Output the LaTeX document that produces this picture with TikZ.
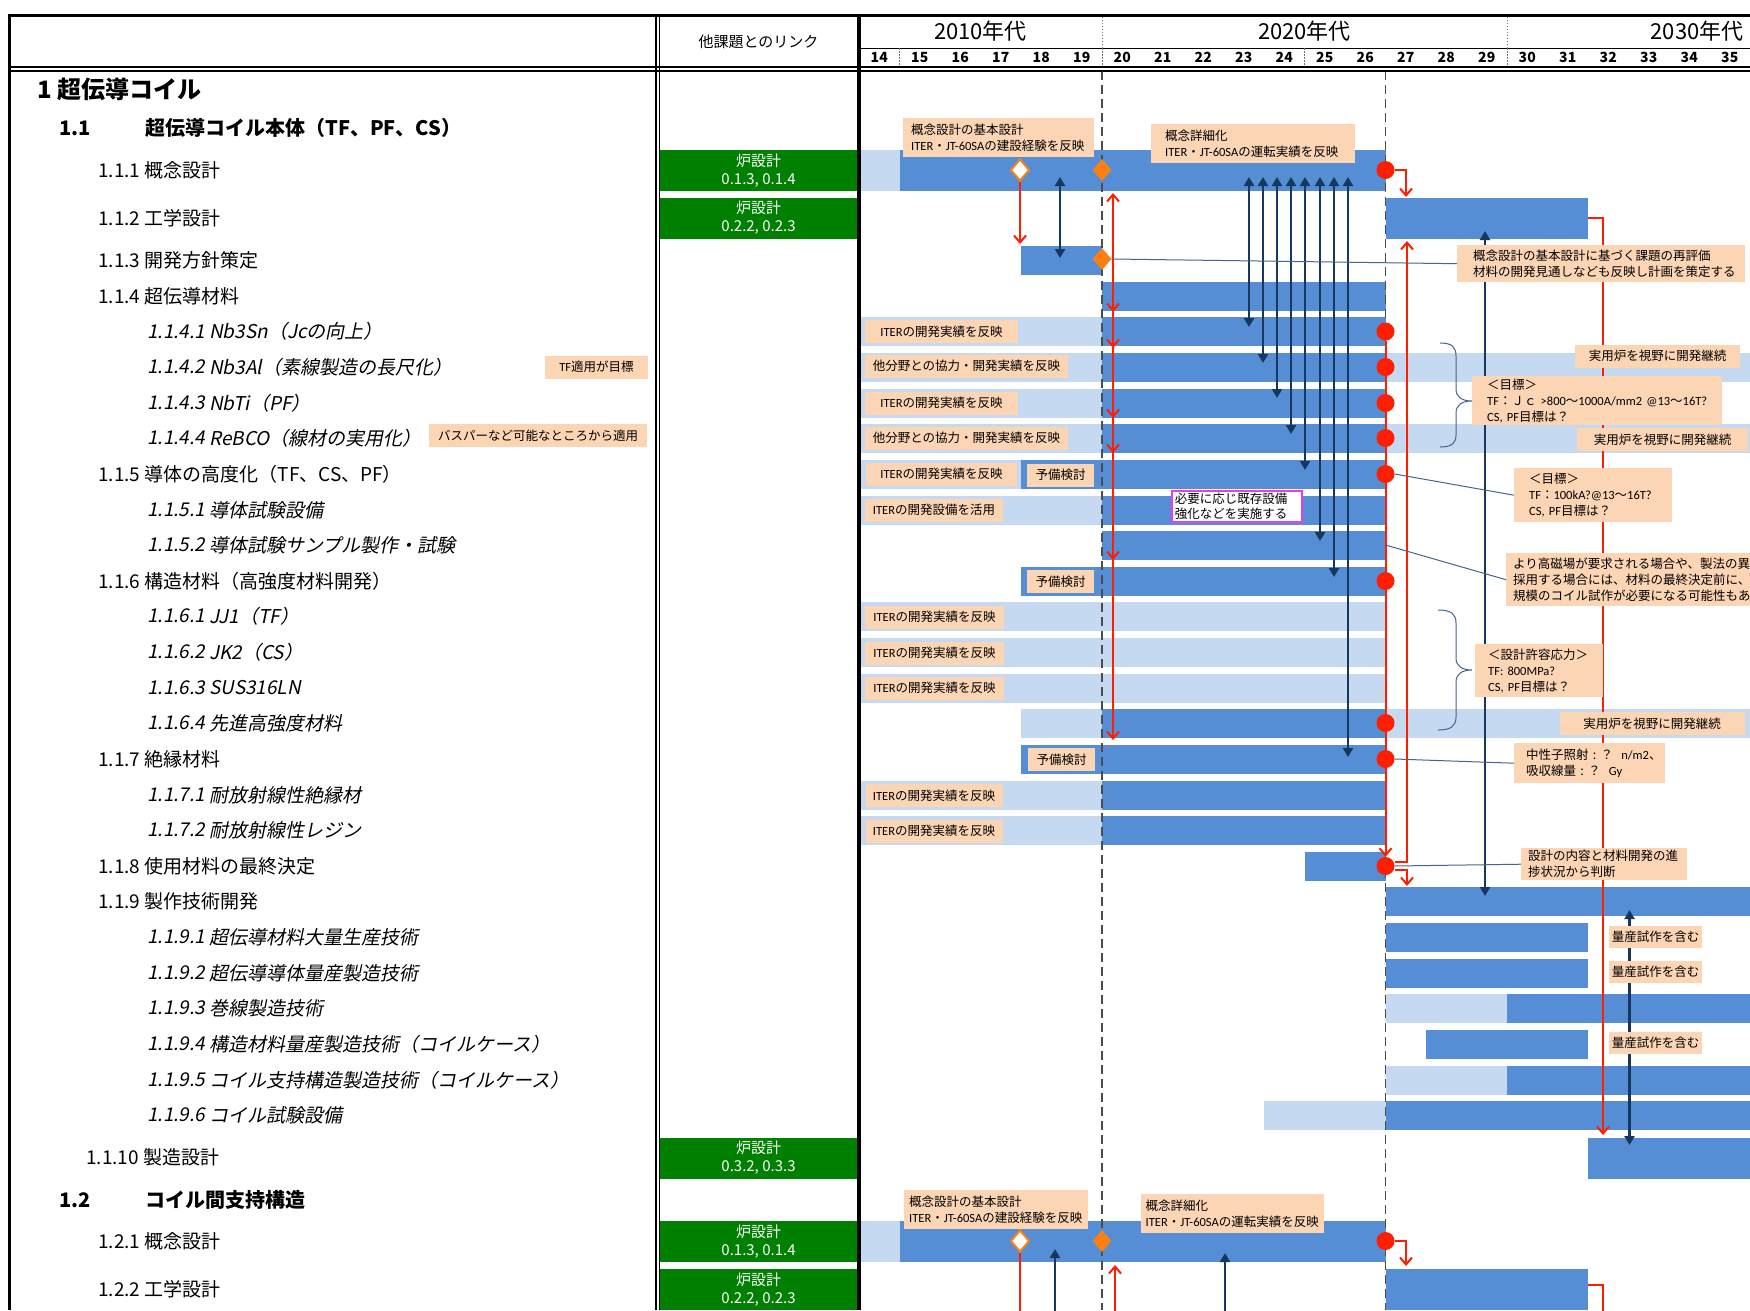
\documentclass[tikz,border=0pt]{standalone}
\usepackage{fontspec}
\setmainfont{Noto Sans CJK JP}
\newfontfamily\jpit[FakeSlant=0.2]{Noto Sans CJK JP}
\newfontfamily\la{Carlito}
\usetikzlibrary{arrows.meta,shapes.geometric}

\definecolor{planblue}{RGB}{85,142,213}
\definecolor{prepblue}{RGB}{197,217,241}
\definecolor{peach}{RGB}{252,213,181}
\definecolor{linkgreen}{RGB}{0,128,0}
\definecolor{ganttred}{RGB}{255,30,0}
\definecolor{gateorange}{RGB}{250,128,20}
\definecolor{navy}{RGB}{23,55,94}
\definecolor{leader}{RGB}{70,100,140}
\definecolor{pinkframe}{RGB}{235,60,235}

\newcommand\tagsize{\fontsize{12.5}{16}\selectfont}

\tikzset{
  tag/.style={fill=peach, inner sep=0pt, minimum height=23pt, font=\tagsize},
  memo/.style={fill=peach, anchor=north west, align=left, inner ysep=0pt, font=\tagsize},
  linkbox/.style={fill=linkgreen, text=white, minimum width=197pt, minimum height=41pt, inner sep=0pt, align=center, font=\fontsize{15}{18}\selectfont},
  goal/.style={circle, fill=ganttred, minimum size=18pt, inner sep=0pt},
  gate/.style={diamond, fill=gateorange, minimum width=19pt, minimum height=22pt, inner sep=0pt},
  opengate/.style={gate, fill=white, draw=gateorange, line width=2pt},
  redline/.style={draw=ganttred, line width=2pt},
  redarr/.style={redline, -{Straight Barb[length=7pt,width=12pt]}},
  navyline/.style={draw=navy, line width=2.2pt},
  navyarr/.style={navyline, {Triangle[length=9pt,width=10pt]}-{Triangle[length=9pt,width=10pt]}},
  navyup/.style={navyline, -{Triangle[length=9pt,width=10pt]}},
  leaderline/.style={draw=leader, line width=1pt},
  stage/.style={draw=black!70, line width=1.2pt, dash pattern=on 9pt off 5pt},
  dotsep/.style={draw=black!55, line width=1pt, dash pattern=on 1.5pt off 1.5pt},
  item/.style={anchor=west, inner sep=0pt, font=\fontsize{19}{22}\selectfont},
  subitem/.style={anchor=west, inner sep=0pt, font=\jpit\fontsize{19}{22}\selectfont},
  head/.style={anchor=west, inner sep=0pt, font=\bfseries\fontsize{20}{24}\selectfont},
}

\begin{document}
\begin{tikzpicture}[x=1pt,y=-1pt]
\useasboundingbox (0,0) rectangle (1750,1310);
\clip (0,0) rectangle (1750,1310);
\fill[white] (0,0) rectangle (1750,1310);

% bars (tall rows)
\foreach \y/\a/\b in {170/859/899.5, 1241/859/899.5}
  \fill[prepblue] (\a,\y-20.5) rectangle (\b,\y+20.5);
\foreach \y/\a/\b in {170/899.5/1385.5, 218/1385.5/1588, 1158/1588/1750, 1241/899.5/1385.5, 1289/1385.5/1588}
  \fill[planblue] (\a,\y-20.5) rectangle (\b,\y+20.5);
% bars (normal rows)
\foreach \y/\a/\b in {331.5/859/1102, 367/859/1102, 367/1385.5/1750, 403/859/1102, 438/859/1102, 438/1385.5/1750,
    474/859/1021, 510/859/1102, 616/859/1385.5, 652/859/1385.5, 688/859/1385.5, 723/1021/1102, 723/1385.5/1750,
    795/859/1102, 830/859/1102, 1008/1385.5/1507, 1080/1385.5/1507, 1115/1264/1385.5}
  \fill[prepblue] (\a,\y-14.5) rectangle (\b,\y+14.5);
\foreach \y/\a/\b in {260/1021/1102, 296/1102/1385.5, 331.5/1102/1385.5, 367/1102/1385.5, 403/1102/1385.5, 438/1102/1385.5,
    474/1021/1385.5, 510/1102/1385.5, 545/1102/1385.5, 581/1021/1385.5, 723/1102/1385.5, 759/1021/1385.5,
    795/1102/1385.5, 830/1102/1385.5, 866/1304.5/1385.5, 901/1385.5/1750, 937/1385.5/1588, 973/1385.5/1588,
    1008/1507/1750, 1044/1426/1588, 1080/1507/1750, 1115/1385.5/1750}
  \fill[planblue] (\a,\y-14.5) rectangle (\b,\y+14.5);

% stage lines
\draw[stage] (1102,71) -- (1102,1310);
\draw[stage] (1385.5,71) -- (1385.5,1310);

% table frame
\draw[line width=3pt] (7.5,15) -- (1750,15);
\draw[line width=3pt] (9,15) -- (9,1310);
\draw[line width=1.2pt] (656,15) -- (656,1310) (659.5,15) -- (659.5,1310);
\draw[line width=3.5pt] (859,15) -- (859,1310);
\draw[line width=1pt] (859,48) -- (1750,48);
\draw[line width=2pt] (9,66.5) -- (1750,66.5) (9,70.5) -- (1750,70.5);
\foreach \x in {1102,1507} \draw[dotsep] (\x,16.5) -- (\x,48);
\foreach \x in {899.5,1102,1304.5,1507} \draw[dotsep] (\x,48) -- (\x,65.5);

% header
\node[font=\fontsize{15}{18}\selectfont] (linkhead) at (758.5,42) {他課題とのリンク};
\node[font=\fontsize{22}{26}\selectfont] (dec10) at (980.5,31) {2010年代};
\node[font=\fontsize{22}{26}\selectfont] (dec20) at (1304.5,31) {2020年代};
\node[font=\fontsize{22}{26}\selectfont] (dec30) at (1697,31) {2030年代};
\foreach \yr [count=\i from 0] in {14,...,35}
  \node[font=\bfseries\fontsize{14}{16}\selectfont] (yr\yr) at (879.25+40.5*\i,57.5) {\yr};

% work items
\node[anchor=west, inner sep=0pt, font=\bfseries\fontsize{24}{28}\selectfont] (sec1) at (37,89) {1 超伝導コイル};
\node[head] (sec11n) at (59,128) {1.1};
\node[head] (sec11) at (145,128) {超伝導コイル本体（TF、PF、CS）};
\node[head] (sec12n) at (59,1200) {1.2};
\node[head] (sec12) at (145,1200) {コイル間支持構造};
\foreach \y/\t [count=\i] in {170/1.1.1 概念設計, 218/1.1.2 工学設計, 260/1.1.3 開発方針策定, 296/1.1.4 超伝導材料,
    474/1.1.5 導体の高度化（TF、CS、PF）, 581/1.1.6 構造材料（高強度材料開発）, 759/1.1.7 絶縁材料,
    866/1.1.8 使用材料の最終決定, 901/1.1.9 製作技術開発, 1241/1.2.1 概念設計, 1289/1.2.2 工学設計}
  \node[item] (lv\i) at (98,\y) {\t};
\node[item] (lv1110) at (86,1157) {1.1.10 製造設計};
\foreach \y/\n/\t [count=\i] in {331.5/1.1.4.1/Nb3Sn（Jcの向上）, 367/1.1.4.2/Nb3Al（素線製造の長尺化）, 403/1.1.4.3/NbTi（PF）,
    438/1.1.4.4/ReBCO（線材の実用化）, 510/1.1.5.1/導体試験設備, 545/1.1.5.2/導体試験サンプル製作・試験,
    616/1.1.6.1/JJ1（TF）, 652/1.1.6.2/JK2（CS）, 688/1.1.6.3/SUS316LN, 723/1.1.6.4/先進高強度材料,
    795/1.1.7.1/耐放射線性絶縁材, 830/1.1.7.2/耐放射線性レジン, 937/1.1.9.1/超伝導材料大量生産技術,
    973/1.1.9.2/超伝導導体量産製造技術, 1008/1.1.9.3/巻線製造技術, 1044/1.1.9.4/構造材料量産製造技術（コイルケース）,
    1080/1.1.9.5/コイル支持構造製造技術（コイルケース）, 1115/1.1.9.6/コイル試験設備} {
  \node[subitem] (num\i) at (147,\y) {\n};
  \node[subitem] (name\i) at (209,\y) {\t};
}
\node[tag, minimum width=103pt] (tfgoal) at (596.5,367) {{\la TF}適用が目標};
\node[tag, minimum width=218pt] (busbar) at (538,435.5) {バスパーなど可能なところから適用};

% links to other tasks
\node[linkbox] (k111) at (758.5,170.5) {炉設計\\0.1.3, 0.1.4};
\node[linkbox] (k112) at (758.5,218) {炉設計\\0.2.2, 0.2.3};
\node[linkbox] (k1110) at (758.5,1158) {炉設計\\0.3.2, 0.3.3};
\node[linkbox] (k121) at (758.5,1241.5) {炉設計\\0.1.3, 0.1.4};
\node[linkbox] (k122) at (758.5,1289.5) {炉設計\\0.2.2, 0.2.3};

% milestones
\node[opengate] (g111a) at (1020,170) {};
\node[gate] (g111b) at (1102,170) {};
\node[gate] (g113) at (1102,259) {};
\node[opengate] (g121a) at (1020,1241) {};
\node[gate] (g121b) at (1102,1241) {};
\foreach \n/\y in {111/170, 1141/331.5, 1142/367, 1143/403, 1144/438, 115/474, 116/581, 1164/723, 117/759, 118/866, 121/1241}
  \node[goal] (c\n) at (1385.5,\y) {};

% navy links
\coordinate (na0) at (1060,177);
\coordinate (nb0) at (1060,258);
\draw[navyarr] (na0) -- (nb0);
\foreach \x/\t [count=\i] in {1249/327, 1263/363, 1277/398, 1291/434, 1305/470, 1320/541, 1334/577, 1348/757} {
  \coordinate (na\i) at (\x,177);
  \coordinate (nb\i) at (\x,\t);
  \draw[navyarr] (na\i) -- (nb\i);
}
\coordinate (nc1) at (1485,231);
\coordinate (nc2) at (1485,896);
\draw[navyarr] (nc1) -- (nc2);
\coordinate (nd1) at (1629.5,910);
\coordinate (nd2) at (1629.5,1145);
\draw[navyarr] (nd1) -- (nd2);
\coordinate (ne1) at (1055,1320);
\coordinate (ne2) at (1055,1249);
\draw[navyup] (ne1) -- (ne2);
\coordinate (nf1) at (1225,1320);
\coordinate (nf2) at (1225,1253);
\draw[navyup] (nf1) -- (nf2);

% red flows
\coordinate (r0) at (1020,244);
\draw[redarr] (g111a.south) -- (r0);
\coordinate (ru) at (1113,193);
\draw[redarr] (g113.east) -| (ru);
\foreach \t [count=\i] in {312,348,418,453,560,740} {
  \coordinate (rd\i) at (1113,\t);
  \draw[redarr] (g113.east) -| (rd\i);
}
\coordinate (r111) at (1406,197);
\draw[redarr] (c111.east) -| (r111);
\draw[redarr] (c1141.south) -- (c118.north);
\coordinate (r112) at (1407,241);
\draw[redarr] ([yshift=4pt]c118.east) -| (r112);
\coordinate (r119) at (1407,886);
\draw[redarr] ([yshift=-4pt]c118.east) -| (r119);
\coordinate (e112) at (1588,218);
\coordinate (r1110) at (1603,1135);
\draw[redarr] (e112) -| (r1110);
\coordinate (r122) at (1406,1266);
\draw[redarr] (c121.east) -| (r122);
\coordinate (e122) at (1588,1285);
\coordinate (x122) at (1603,1320);
\draw[redline] (e122) -| (x122);
\coordinate (x121) at (1020,1320);
\draw[redline] (g121a.south) -- (x121);
\coordinate (y121a) at (1115,1320);
\coordinate (y121b) at (1115,1265);
\draw[redarr] (y121a) -- (y121b);

% tags on the bars
\node[tag, minimum width=153pt] (t1141) at (941.5,331.5) {{\la ITER}の開発実績を反映};
\node[tag, minimum width=203pt] (t1142) at (966.5,366) {他分野との協力・開発実績を反映};
\node[tag, minimum width=153pt] (t1143) at (941.5,403) {{\la ITER}の開発実績を反映};
\node[tag, minimum width=203pt] (t1144) at (966.5,438) {他分野との協力・開発実績を反映};
\node[tag, minimum width=151pt] (t115) at (941.5,474) {{\la ITER}の開発実績を反映};
\node[tag, minimum width=67pt] (p115) at (1060.5,475) {予備検討};
\node[tag, minimum width=138pt] (t1151) at (934,510) {{\la ITER}の開発設備を活用};
\node[tag, minimum width=67pt] (p116) at (1060.5,581.5) {予備検討};
\foreach \y [count=\i] in {617,653,688}
  \node[tag, minimum width=139pt] (t116\i) at (934.5,\y) {{\la ITER}の開発実績を反映};
\node[tag, minimum width=67pt] (p117) at (1061.5,759.5) {予備検討};
\foreach \y [count=\i] in {795.5,831}
  \node[tag, minimum width=137pt] (t117\i) at (934,\y) {{\la ITER}の開発実績を反映};
\node[tag, minimum width=165pt] (f1142) at (1657.5,356) {実用炉を視野に開発継続};
\node[tag, minimum width=171pt] (f1144) at (1662.5,439.5) {実用炉を視野に開発継続};
\node[tag, minimum width=185pt] (f1164) at (1652,723.5) {実用炉を視野に開発継続};
\foreach \y [count=\i] in {937,972,1043}
  \node[tag, minimum width=93pt, minimum height=22pt] (q\i) at (1655.5,\y) {量産試作を含む};

% notes
\node[memo, inner xsep=8pt, text width=175pt, minimum height=39pt] (m111a) at (903,118) {概念設計の基本設計\\{\la ITER}・{\la JT-60SA}の建設経験を反映};
\node[memo, inner xsep=14pt, text width=176pt, minimum height=39pt] (m111b) at (1151,124) {概念詳細化\\{\la ITER}・{\la JT-60SA}の運転実績を反映};
\node[memo, inner xsep=16pt, text width=256pt, minimum height=37pt] (m113) at (1457,245) {概念設計の基本設計に基づく課題の再評価\\材料の開発見通しなども反映し計画を策定する};
\node[memo, inner xsep=15pt, text width=220pt, minimum height=49pt] (m114) at (1472,376) {＜目標＞\\{\la TF}：Ｊｃ~{\la >800}～{\la 1000A/mm2~@13}～{\la 16T?}\\{\la CS,~PF}目標は？};
\node[memo, inner xsep=15pt, text width=128pt, minimum height=54pt] (m115) at (1514,468) {＜目標＞\\{\la TF}：{\la 100kA?@13}～{\la 16T?}\\{\la CS,~PF}目標は？};
\node[memo, fill=white, draw=pinkframe, line width=1.8pt, inner xsep=3pt, text width=124pt, minimum height=31pt, font=\fontsize{12.5}{15}\selectfont] (m1151) at (1171,490) {必要に応じ既存設備\\強化などを実施する};
\node[memo, inner xsep=7pt, text width=262pt, minimum height=53pt] (m1152) at (1506,553) {より高磁場が要求される場合や、製法の異な\\採用する場合には、材料の最終決定前に、あ\\規模のコイル試作が必要になる可能性もあ};
\node[memo, inner xsep=13pt, text width=102pt, minimum height=53pt] (m116) at (1475,644) {＜設計許容応力＞\\{\la TF:~800MPa?}\\{\la CS,~PF}目標は？};
\node[memo, inner xsep=12pt, text width=127pt, minimum height=40pt] (m117) at (1514,743) {中性子照射~:~？~~{\la n/m2}、\\吸収線量~:~？~~{\la Gy}};
\node[memo, inner xsep=7pt, text width=152pt, minimum height=32pt] (m118) at (1521,848) {設計の内容と材料開発の進\\捗状況から判断};
\node[memo, inner xsep=5pt, text width=174pt, minimum height=39pt] (m121a) at (904,1190) {概念設計の基本設計\\{\la ITER}・{\la JT-60SA}の建設経験を反映};
\node[memo, inner xsep=4.5pt, text width=174pt, minimum height=39pt] (m121b) at (1141,1194) {概念詳細化\\{\la ITER}・{\la JT-60SA}の運転実績を反映};

% leaders and braces
\draw[leaderline] (g113.east) -- (m113.west);
\draw[leaderline] (c115.east) -- (m115.west);
\coordinate (e1152) at (1385.5,545);
\draw[leaderline] (e1152) -- (m1152.west);
\draw[leaderline] (c117.east) -- (m117.west);
\draw[leaderline] (c118.east) -- (m118.west);
\draw[leaderline] (1440,343) .. controls (1452,343) and (1456,347) .. (1456,356) -- (1456,389)
  .. controls (1456,397) and (1462,401) .. (1472,401) .. controls (1462,401) and (1456,405) .. (1456,413)
  -- (1456,435) .. controls (1456,443) and (1452,447) .. (1440,447);
\draw[leaderline] (1438,610) .. controls (1451,610) and (1456,614) .. (1456,623) -- (1456,658)
  .. controls (1456,666) and (1462,670) .. (1472,670) .. controls (1462,670) and (1456,674) .. (1456,682)
  -- (1456,717) .. controls (1456,726) and (1451,730) .. (1438,730);
\end{tikzpicture}
\end{document}
